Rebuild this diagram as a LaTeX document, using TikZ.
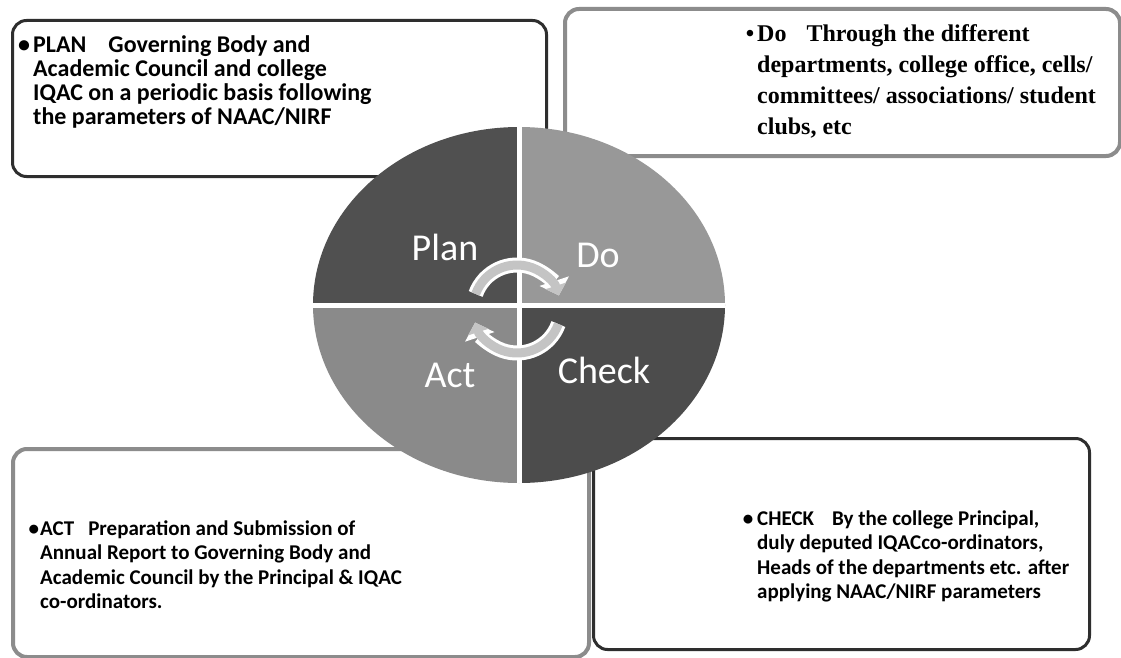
\documentclass[tikz,border=0pt]{standalone}
\usepackage{fontspec}
\setmainfont{Carlito}
\newfontfamily\dofont{Liberation Serif}
\usetikzlibrary{arrows.meta}
\definecolor{plancol}{HTML}{505050}
\definecolor{docol}{HTML}{989898}
\definecolor{actcol}{HTML}{8A8A8A}
\definecolor{checkcol}{HTML}{4C4C4C}
\definecolor{arrowcol}{HTML}{C4C4C4}
\begin{document}
\begin{tikzpicture}[x=1pt,y=-1pt,
  boxdark/.style={draw=black!82, line width=3pt, rounded corners=14pt, fill=white, anchor=north west, inner sep=0pt},
  boxlight/.style={draw=black!45, line width=4pt, rounded corners=14pt, fill=white, anchor=north west, inner sep=0pt},
  txt/.style={anchor=base west, inner sep=0pt, align=left, font=\fontsize{21}{24.5}\selectfont\bfseries},
  plantxt/.style={anchor=base west, inner sep=0pt, align=left, font=\fontsize{24}{24}\selectfont\bfseries},
  dotxt/.style={anchor=base west, inner sep=0pt, align=left, font=\dofont\fontsize{24}{31.3}\selectfont\bfseries},
  quadlabel/.style={text=white, font=\fontsize{38}{40}\selectfont, inner sep=0pt},
  cycouter/.style={white, line width=15pt, -{Triangle[length=15pt,width=30pt]}},
  cycinner/.style={arrowcol, line width=9pt, -{Triangle[length=10pt,width=21pt]}}
]
\useasboundingbox[fill=white] (0,0) rectangle (1121,658);

% boxes
\node[boxdark,  minimum width=534pt, minimum height=156pt] (planbox)  at (11,19)  {};
\node[boxlight, minimum width=555pt, minimum height=147pt] (dobox)    at (563,7)  {};
\node[boxlight, minimum width=576pt, minimum height=208pt] (actbox)   at (11,447) {};
\node[boxdark,  minimum width=496pt, minimum height=211pt] (checkbox) at (592,437) {};

% texts (anchor = baseline of the last line)
\node[plantxt] (plantext) at (33,124.7)
  {\llap{\textbullet\hspace{3pt}}PLAN\hspace{22pt}Governing Body and\\
   Academic Council and college\\
   IQAC on a periodic basis following\\
   the parameters of NAAC/NIRF};
\node[dotxt] (dotext) at (757,135)
  {\llap{\textbullet\hspace{3pt}}Do\hspace{20pt}Through the different\\
   departments, college office, cells/\\
   committees/ associations/ student\\
   clubs, etc};
\node[txt] (acttext) at (40,608.5)
  {\llap{\textbullet\hspace{1pt}}ACT\hspace{14pt}Preparation and Submission of\\
   Annual Report to Governing Body and\\
   Academic Council by the Principal \& IQAC\\
   co-ordinators.};
\node[txt] (checktext) at (757,598.5)
  {\llap{\textbullet\hspace{4pt}}CHECK\hspace{18pt}By the college Principal,\\
   duly deputed IQACco-ordinators,\\
   Heads of the departments etc. after\\
   applying NAAC/NIRF parameters};

% PDCA circle
\coordinate (cc) at (519,305);
\begin{scope}
  \clip (cc) ellipse [x radius=206, y radius=178];
  \fill[plancol]  (cc) rectangle (300,100);
  \fill[docol]    (cc) rectangle (740,100);
  \fill[actcol]   (cc) rectangle (300,500);
  \fill[checkcol] (cc) rectangle (740,500);
  \draw[white, line width=5pt] (519,100) -- (519,500) (300,305) -- (740,305);
\end{scope}

\node[quadlabel] (planlbl)  at (445,247) {Plan};
\node[quadlabel] (dolbl)    at (598,255) {Do};
\node[quadlabel] (actlbl)   at (450,375) {Act};
\node[quadlabel] (checklbl) at (604,370) {Check};

% cycle arrows
\coordinate (ac) at (517,309);
\draw[cycouter] (ac) ++(200:44) arc[start angle=200, end angle=342, radius=44];
\draw[cycinner] (ac) ++(200:44) arc[start angle=200, end angle=342, radius=44];
\draw[cycouter] (ac) ++(20:44) arc[start angle=20, end angle=162, radius=44];
\draw[cycinner] (ac) ++(20:44) arc[start angle=20, end angle=162, radius=44];
\end{tikzpicture}
\end{document}
